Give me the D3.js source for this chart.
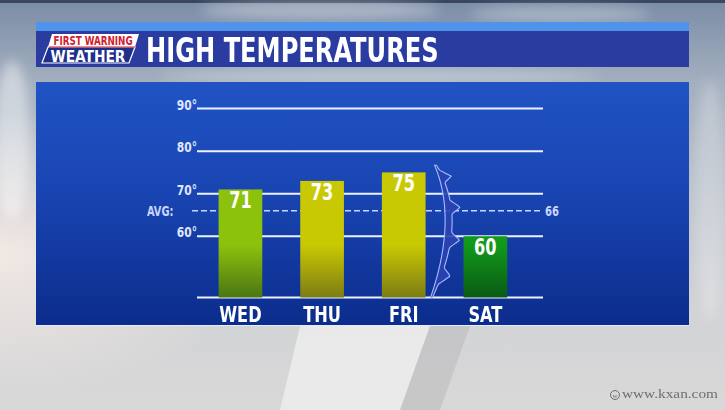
<!DOCTYPE html>
<html>
<head>
<meta charset="utf-8">
<script src="https://cdn.jsdelivr.net/npm/d3@7"></script>
<style>
  html, body { margin: 0; padding: 0; background: #c8ccd2; }
  svg { display: block; }
</style>
</head>
<body>
<svg id="chart" width="725" height="410"></svg>
<script>
// chart data
const days = ["WED", "THU", "FRI", "SAT"];
const highs = [71, 73, 75, 60];
const gridTicks = [60, 70, 80, 90];
const tickLabels = ["60°", "70°", "80°", "90°"];
const avgHigh = 66;

// bar colours (top, bottom) per day
const barTop = ["#8dc20c", "#c9c903", "#c9c903", "#11991a"];
const barBottom = ["#4a7612", "#7d7c14", "#7d7c14", "#0a5a14"];

const W = 725, H = 410;
const font = "'DejaVu Sans Condensed', 'Liberation Sans Narrow', 'Roboto', sans-serif";

const svg = d3.select("#chart");
const defs = svg.append("defs");

// narrow text helper: squeeze horizontally around the anchor point
function label(parent, tx, ty, str, opts) {
  const g = parent.append("g")
    .attr("transform", `translate(${tx},${ty}) scale(${opts.sx || 1},1)`);
  return g.append("text")
    .attr("text-anchor", opts.anchor || "start")
    .attr("font-family", opts.family || font)
    .attr("font-weight", opts.weight || "bold")
    .attr("font-size", opts.size)
    .attr("fill", opts.fill || "#ffffff")
    .text(str);
}

// background sky
const sky = defs.append("linearGradient").attr("id", "sky")
  .attr("x1", 0).attr("y1", 0).attr("x2", 0).attr("y2", 1);
sky.append("stop").attr("offset", 0).attr("stop-color", "#7a8ca6");
sky.append("stop").attr("offset", 0.2).attr("stop-color", "#a3afbf");
sky.append("stop").attr("offset", 0.75).attr("stop-color", "#d2d3d6");
sky.append("stop").attr("offset", 1).attr("stop-color", "#d8d8d8");

const glow = defs.append("radialGradient").attr("id", "glow")
  .attr("cx", 0).attr("cy", 0.62).attr("r", 0.35);
glow.append("stop").attr("offset", 0).attr("stop-color", "#f6ece6").attr("stop-opacity", 0.9);
glow.append("stop").attr("offset", 1).attr("stop-color", "#f6ece6").attr("stop-opacity", 0);

defs.append("filter").attr("id", "blur")
  .append("feGaussianBlur").attr("stdDeviation", 6);

// panel gradient
const panel = defs.append("linearGradient").attr("id", "panel")
  .attr("x1", 0).attr("y1", 0).attr("x2", 0).attr("y2", 1);
panel.append("stop").attr("offset", 0).attr("stop-color", "#2153c4");
panel.append("stop").attr("offset", 0.45).attr("stop-color", "#1945b2");
panel.append("stop").attr("offset", 1).attr("stop-color", "#0b2c8c");

svg.append("rect").attr("width", W).attr("height", H).attr("fill", "url(#sky)");
svg.append("rect").attr("width", W).attr("height", H).attr("fill", "url(#glow)");
svg.append("rect").attr("width", W).attr("height", 3).attr("fill", "#3a4660");

// soft cloud streaks
const clouds = svg.append("g").attr("filter", "url(#blur)").attr("fill", "#ffffff");
clouds.append("ellipse").attr("cx", 320).attr("cy", 10).attr("rx", 120).attr("ry", 9).attr("opacity", 0.35);
clouds.append("ellipse").attr("cx", 560).attr("cy", 14).attr("rx", 90).attr("ry", 8).attr("opacity", 0.3);
clouds.append("ellipse").attr("cx", 380).attr("cy", 76).attr("rx", 220).attr("ry", 6).attr("opacity", 0.35);
clouds.append("ellipse").attr("cx", 12).attr("cy", 140).attr("rx", 18).attr("ry", 80).attr("opacity", 0.45);
clouds.append("ellipse").attr("cx", 710).attr("cy", 200).attr("rx", 16).attr("ry", 120).attr("opacity", 0.25);

// light shapes below panel
svg.append("path").attr("d", "M300,326 L430,326 L400,410 L280,410 Z")
  .attr("fill", "#f2f2f2").attr("opacity", 0.7);
svg.append("path").attr("d", "M430,326 L470,326 L440,410 L400,410 Z")
  .attr("fill", "#bcbcbe").attr("opacity", 0.6);

// header
const hx = 36, hw = 653;
svg.append("rect").attr("x", hx).attr("y", 22).attr("width", hw).attr("height", 10).attr("fill", "#4f93ea");
svg.append("rect").attr("x", hx).attr("y", 31).attr("width", hw).attr("height", 36).attr("fill", "#2a3c9f");

// logo
const logo = svg.append("g");
logo.append("path").attr("d", "M52,34 L139,34 L135,47 L48,47 Z").attr("fill", "#ffffff");
logo.append("path").attr("d", "M48,47 L135,47 L129,63 L42,63 Z")
  .attr("fill", "#1f2f8c").attr("stroke", "#ffffff").attr("stroke-width", 1.2);
logo.append("line").attr("x1", 49).attr("x2", 135).attr("y1", 47).attr("y2", 47)
  .attr("stroke", "#d1202f").attr("stroke-width", 1.2);
label(logo, 93, 44.5, "FIRST WARNING", { size: 12.5, sx: 0.78, anchor: "middle", fill: "#d1202f" });
label(logo, 88, 62, "WEATHER", { size: 15, sx: 1.02, anchor: "middle" });

label(svg, 146, 62, "HIGH TEMPERATURES", { size: 34, sx: 0.79 });

// chart panel
svg.append("rect").attr("x", hx).attr("y", 82).attr("width", hw).attr("height", 244).attr("fill", "url(#panel)");
svg.append("line").attr("x1", hx).attr("x2", hx + hw).attr("y1", 325.5).attr("y2", 325.5)
  .attr("stroke", "#e6ecff").attr("stroke-width", 1);

// scales
const y = d3.scaleLinear().domain([45.6, 90]).range([297.5, 108.6]);
const x = d3.scaleBand().domain(days).range([199, 526.8]).paddingInner(0.465).paddingOuter(0.24);
const gx0 = 197, gx1 = 543;

// gridlines
svg.append("g").selectAll("line").data(gridTicks).join("line")
  .attr("x1", gx0).attr("x2", gx1)
  .attr("y1", d => y(d)).attr("y2", d => y(d))
  .attr("stroke", "#eef2ff").attr("stroke-width", 2);

const tickG = svg.append("g");
gridTicks.forEach((d, i) => {
  label(tickG, 197, y(d) + 1, tickLabels[i], { size: 14, sx: 0.85, anchor: "end", fill: "#dfe6ff" });
});

// baseline
svg.append("line").attr("x1", gx0).attr("x2", gx1)
  .attr("y1", y.range()[0]).attr("y2", y.range()[0])
  .attr("stroke", "#eef2ff").attr("stroke-width", 2);

// average line
svg.append("line").attr("x1", 192).attr("x2", gx1)
  .attr("y1", y(avgHigh)).attr("y2", y(avgHigh))
  .attr("stroke", "#c9d6ff").attr("stroke-width", 1.5).attr("stroke-dasharray", "6,3");
label(svg, 147, y(avgHigh) + 5, "AVG:", { size: 14, sx: 0.78, fill: "#c9d6ff" });
label(svg, 545, y(avgHigh) + 5, avgHigh, { size: 14, sx: 0.8, fill: "#c9d6ff" });

// bar gradients (dark fade near the bottom)
days.forEach((d, i) => {
  const g = defs.append("linearGradient").attr("id", "bar" + i)
    .attr("gradientUnits", "userSpaceOnUse")
    .attr("x1", 0).attr("x2", 0).attr("y1", y(58)).attr("y2", y.range()[0]);
  g.append("stop").attr("offset", 0).attr("stop-color", barTop[i]);
  g.append("stop").attr("offset", 1).attr("stop-color", barBottom[i]);
});

const bars = svg.append("g");
bars.selectAll("rect").data(days).join("rect")
  .attr("x", d => x(d))
  .attr("y", (d, i) => y(highs[i]))
  .attr("width", x.bandwidth())
  .attr("height", (d, i) => y.range()[0] - y(highs[i]))
  .attr("fill", (d, i) => `url(#bar${i})`);

days.forEach((d, i) => {
  const cx = x(d) + x.bandwidth() / 2;
  label(bars, cx, y(highs[i]) + 19, highs[i], { size: 22.5, sx: 0.8, anchor: "middle" });
  label(bars, cx, 322, d, { size: 21.5, sx: 0.84, anchor: "middle" });
});

// cold front between FRI and SAT
const fx = (x("FRI") + x.bandwidth() + x("SAT")) / 2;
const p0 = [fx - 10, y(76.7)], pc = [fx + 13, y(64)], p1 = [fx - 14, y.range()[0]];
const bez = t => [
  (1 - t) * (1 - t) * p0[0] + 2 * (1 - t) * t * pc[0] + t * t * p1[0],
  (1 - t) * (1 - t) * p0[1] + 2 * (1 - t) * t * pc[1] + t * t * p1[1]
];
const n = 80;
const left = d3.range(n + 1).map(k => bez(k / n));
const barbs = [0.1, 0.36, 0.61, 0.86];
const right = [];
d3.range(n + 1).forEach(k => {
  const t = k / n;
  const [px, py] = bez(t);
  const w = 2 + 5 * Math.sin(Math.PI * t);
  let bump = 0;
  barbs.forEach(b => {
    const dd = Math.abs(t - b);
    if (dd < 0.055) bump = Math.max(bump, 9 * (1 - dd / 0.055));
  });
  right.push([px + w + bump, py]);
});
const outline = left.concat(right.reverse());
svg.append("path")
  .attr("d", d3.line().curve(d3.curveLinearClosed)(outline))
  .attr("fill", "#2a42b0").attr("fill-opacity", 0.9)
  .attr("stroke", "#a9bcff").attr("stroke-width", 1.1);

// footer
const foot = svg.append("g").attr("fill", "#6e6e70");
foot.append("circle").attr("cx", 615).attr("cy", 395).attr("r", 4.5)
  .attr("fill", "none").attr("stroke", "#6e6e70").attr("stroke-width", 1);
foot.append("text").attr("x", 615).attr("y", 397.5).attr("text-anchor", "middle")
  .attr("font-family", "'Liberation Serif', serif").attr("font-size", 7).text("w");
foot.append("text").attr("x", 622).attr("y", 398).attr("font-family", "'Liberation Serif', serif")
  .attr("font-size", 13).attr("textLength", 96).attr("lengthAdjust", "spacingAndGlyphs")
  .text("www.kxan.com");
</script>
</body>
</html>
